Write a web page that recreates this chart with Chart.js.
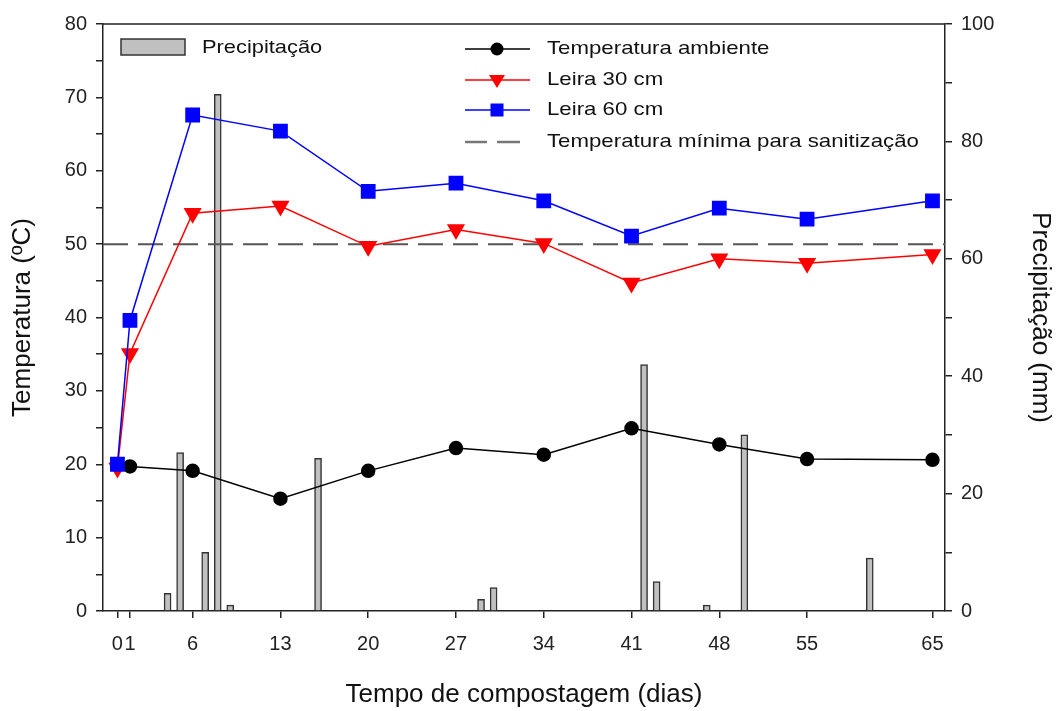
<!DOCTYPE html>
<html>
<head>
<meta charset="utf-8">
<script src="https://cdn.jsdelivr.net/npm/chart.js@4/dist/chart.umd.min.js"></script>
<style>
  html, body { margin: 0; padding: 0; background: #fff; }
  #wrap { width: 1056px; height: 711px; }
</style>
</head>
<body>
<div id="wrap"><canvas id="chart" width="1056" height="711"></canvas></div>
<script>
// dados
const xTicks = [0, 1, 6, 13, 20, 27, 34, 41, 48, 55, 65];
const leiraDays = [0, 1, 6, 13, 20, 27, 34, 41, 48, 55, 65];
const leira30 = [19.5, 35.1, 54.2, 55.2, 49.7, 52.0, 50.1, 44.7, 48.0, 47.4, 48.6];
const leira60 = [20.0, 39.6, 67.6, 65.4, 57.2, 58.3, 55.9, 51.1, 54.9, 53.4, 55.9];
const ambDays = [1, 6, 13, 20, 27, 34, 41, 48, 55, 65];
const ambiente = [19.7, 19.1, 15.3, 19.1, 22.2, 21.3, 24.9, 22.7, 20.7, 20.6];
const precDays = [4, 5, 7, 8, 9, 16, 29, 30, 42, 43, 47, 50, 60];
const precMm = [3, 27, 10, 88, 1, 26, 2, 4, 42, 5, 1, 30, 9];
const sanitMin = 50;
const xMin = -1.15, xMax = 66;

const font = 'Liberation Sans, Arial, sans-serif';
const pts = (xs, ys) => xs.map((x, i) => ({ x: x, y: ys[i] }));

// texto um pouco esticado na horizontal, como no original
function wideText(ctx, txt, x, y, sx) {
  ctx.save();
  ctx.translate(x, y);
  ctx.scale(sx, 1);
  ctx.fillText(txt, 0, 0);
  ctx.restore();
}

// moldura + legenda desenhadas à mão
const framePlugin = {
  id: 'frame',
  afterDraw(chart) {
    const { ctx, chartArea: a } = chart;
    ctx.save();
    ctx.strokeStyle = '#222';
    ctx.lineWidth = 1.5;
    ctx.beginPath();
    ctx.moveTo(a.left, a.top); ctx.lineTo(a.right, a.top);
    ctx.stroke();

    ctx.font = '19px ' + font;
    ctx.textBaseline = 'middle';
    // Precipitação
    ctx.fillStyle = '#c0c0c0';
    ctx.fillRect(121, 39, 64, 16);
    ctx.strokeStyle = '#333';
    ctx.strokeRect(121, 39, 64, 16);
    ctx.fillStyle = '#111';
    wideText(ctx, 'Precipitação', 202, 48, 1.15);

    const rows = [
      { label: 'Temperatura ambiente', color: '#000', marker: 'circle', y: 49 },
      { label: 'Leira 30 cm', color: '#ff0000', marker: 'tri', y: 80 },
      { label: 'Leira 60 cm', color: '#0000ff', marker: 'square', y: 110 },
      { label: 'Temperatura mínima para sanitização', color: '#777', marker: 'dash', y: 142 }
    ];
    rows.forEach(r => {
      ctx.strokeStyle = r.color;
      ctx.fillStyle = r.color;
      ctx.beginPath();
      if (r.marker === 'dash') {
        ctx.lineWidth = 2.5;
        ctx.moveTo(465, r.y); ctx.lineTo(487, r.y);
        ctx.moveTo(497, r.y); ctx.lineTo(520, r.y);
      } else {
        ctx.lineWidth = 1.5;
        ctx.moveTo(465, r.y); ctx.lineTo(530, r.y);
      }
      ctx.stroke();
      const cx = 497;
      ctx.beginPath();
      if (r.marker === 'circle') {
        ctx.arc(cx, r.y, 6.5, 0, Math.PI * 2);
      } else if (r.marker === 'tri') {
        ctx.moveTo(cx - 8, r.y - 5); ctx.lineTo(cx + 8, r.y - 5); ctx.lineTo(cx, r.y + 8);
        ctx.closePath();
      } else if (r.marker === 'square') {
        ctx.rect(cx - 6.5, r.y - 6.5, 13, 13);
      }
      ctx.fill();
      ctx.fillStyle = '#111';
      wideText(ctx, r.label, 547, r.y, 1.17);
    });
    ctx.restore();
  }
};

const tickFont = { family: font, size: 20 };
const titleFont = { family: font, size: 26 };

new Chart(document.getElementById('chart'), {
  data: {
    datasets: [
      {
        type: 'line', label: 'Temperatura ambiente', data: pts(ambDays, ambiente), yAxisID: 'y',
        borderColor: '#000', backgroundColor: '#000', borderWidth: 1.5,
        pointStyle: 'circle', pointRadius: 6.5, order: 1
      },
      {
        type: 'line', label: 'Leira 30 cm', data: pts(leiraDays, leira30), yAxisID: 'y',
        borderColor: '#ff0000', backgroundColor: '#ff0000', borderWidth: 1.5,
        pointStyle: 'triangle', rotation: 180, pointRadius: 9, order: 2
      },
      {
        type: 'line', label: 'Leira 60 cm', data: pts(leiraDays, leira60), yAxisID: 'y',
        borderColor: '#0000ff', backgroundColor: '#0000ff', borderWidth: 1.5,
        pointStyle: 'rect', pointRadius: 9.4, order: 0
      },
      {
        type: 'line', label: 'Temperatura mínima para sanitização',
        data: [{ x: xMin, y: sanitMin }, { x: xMax, y: sanitMin }], yAxisID: 'y',
        borderColor: '#555', borderWidth: 2, borderDash: [25, 10], pointRadius: 0, order: 3
      },
      {
        type: 'bar', label: 'Precipitação', data: pts(precDays, precMm), yAxisID: 'y1',
        backgroundColor: '#c0c0c0', borderColor: '#333', borderWidth: 1.5,
        barThickness: 7, order: 10
      }
    ]
  },
  options: {
    responsive: false,
    animation: false,
    layout: { padding: { left: 0, right: 0, top: 24, bottom: 0 } },
    plugins: { legend: { display: false }, tooltip: { enabled: false } },
    scales: {
      x: {
        type: 'linear', min: xMin, max: xMax, offset: false,
        afterBuildTicks: s => { s.ticks = xTicks.map(v => ({ value: v })); },
        afterFit: s => { s.height = 100; },
        ticks: { autoSkip: false, maxRotation: 0, padding: 14, color: '#222', font: tickFont },
        grid: { offset: false, drawOnChartArea: false, tickLength: 7, color: '#222', lineWidth: 1.5 },
        border: { color: '#222', width: 1.5 },
        title: { display: true, text: 'Tempo de compostagem (dias)', color: '#111', font: titleFont, padding: { top: 0, bottom: 1 } }
      },
      y: {
        position: 'left', min: 0, max: 80,
        afterFit: s => { s.width = 103; },
        ticks: { stepSize: 5, padding: 9, color: '#222', font: tickFont, callback: v => (v % 10 === 0 ? v : '') },
        grid: { drawOnChartArea: false, tickLength: 7, color: '#222', lineWidth: 1.5 },
        border: { color: '#222', width: 1.5 },
        title: { display: true, text: 'Temperatura (ºC)', color: '#111', font: titleFont, padding: { top: 7, bottom: 0 } }
      },
      y1: {
        position: 'right', min: 0, max: 100,
        afterFit: s => { s.width = 111; },
        ticks: { stepSize: 10, padding: 9, color: '#222', font: tickFont, callback: v => (v % 20 === 0 ? v : '') },
        grid: { drawOnChartArea: false, tickLength: 7, color: '#222', lineWidth: 1.5 },
        border: { color: '#222', width: 1.5 },
        title: { display: true, text: 'Precipitação (mm)', color: '#111', font: titleFont, padding: { top: 0, bottom: 1 } }
      }
    }
  },
  plugins: [framePlugin]
});
</script>
</body>
</html>
